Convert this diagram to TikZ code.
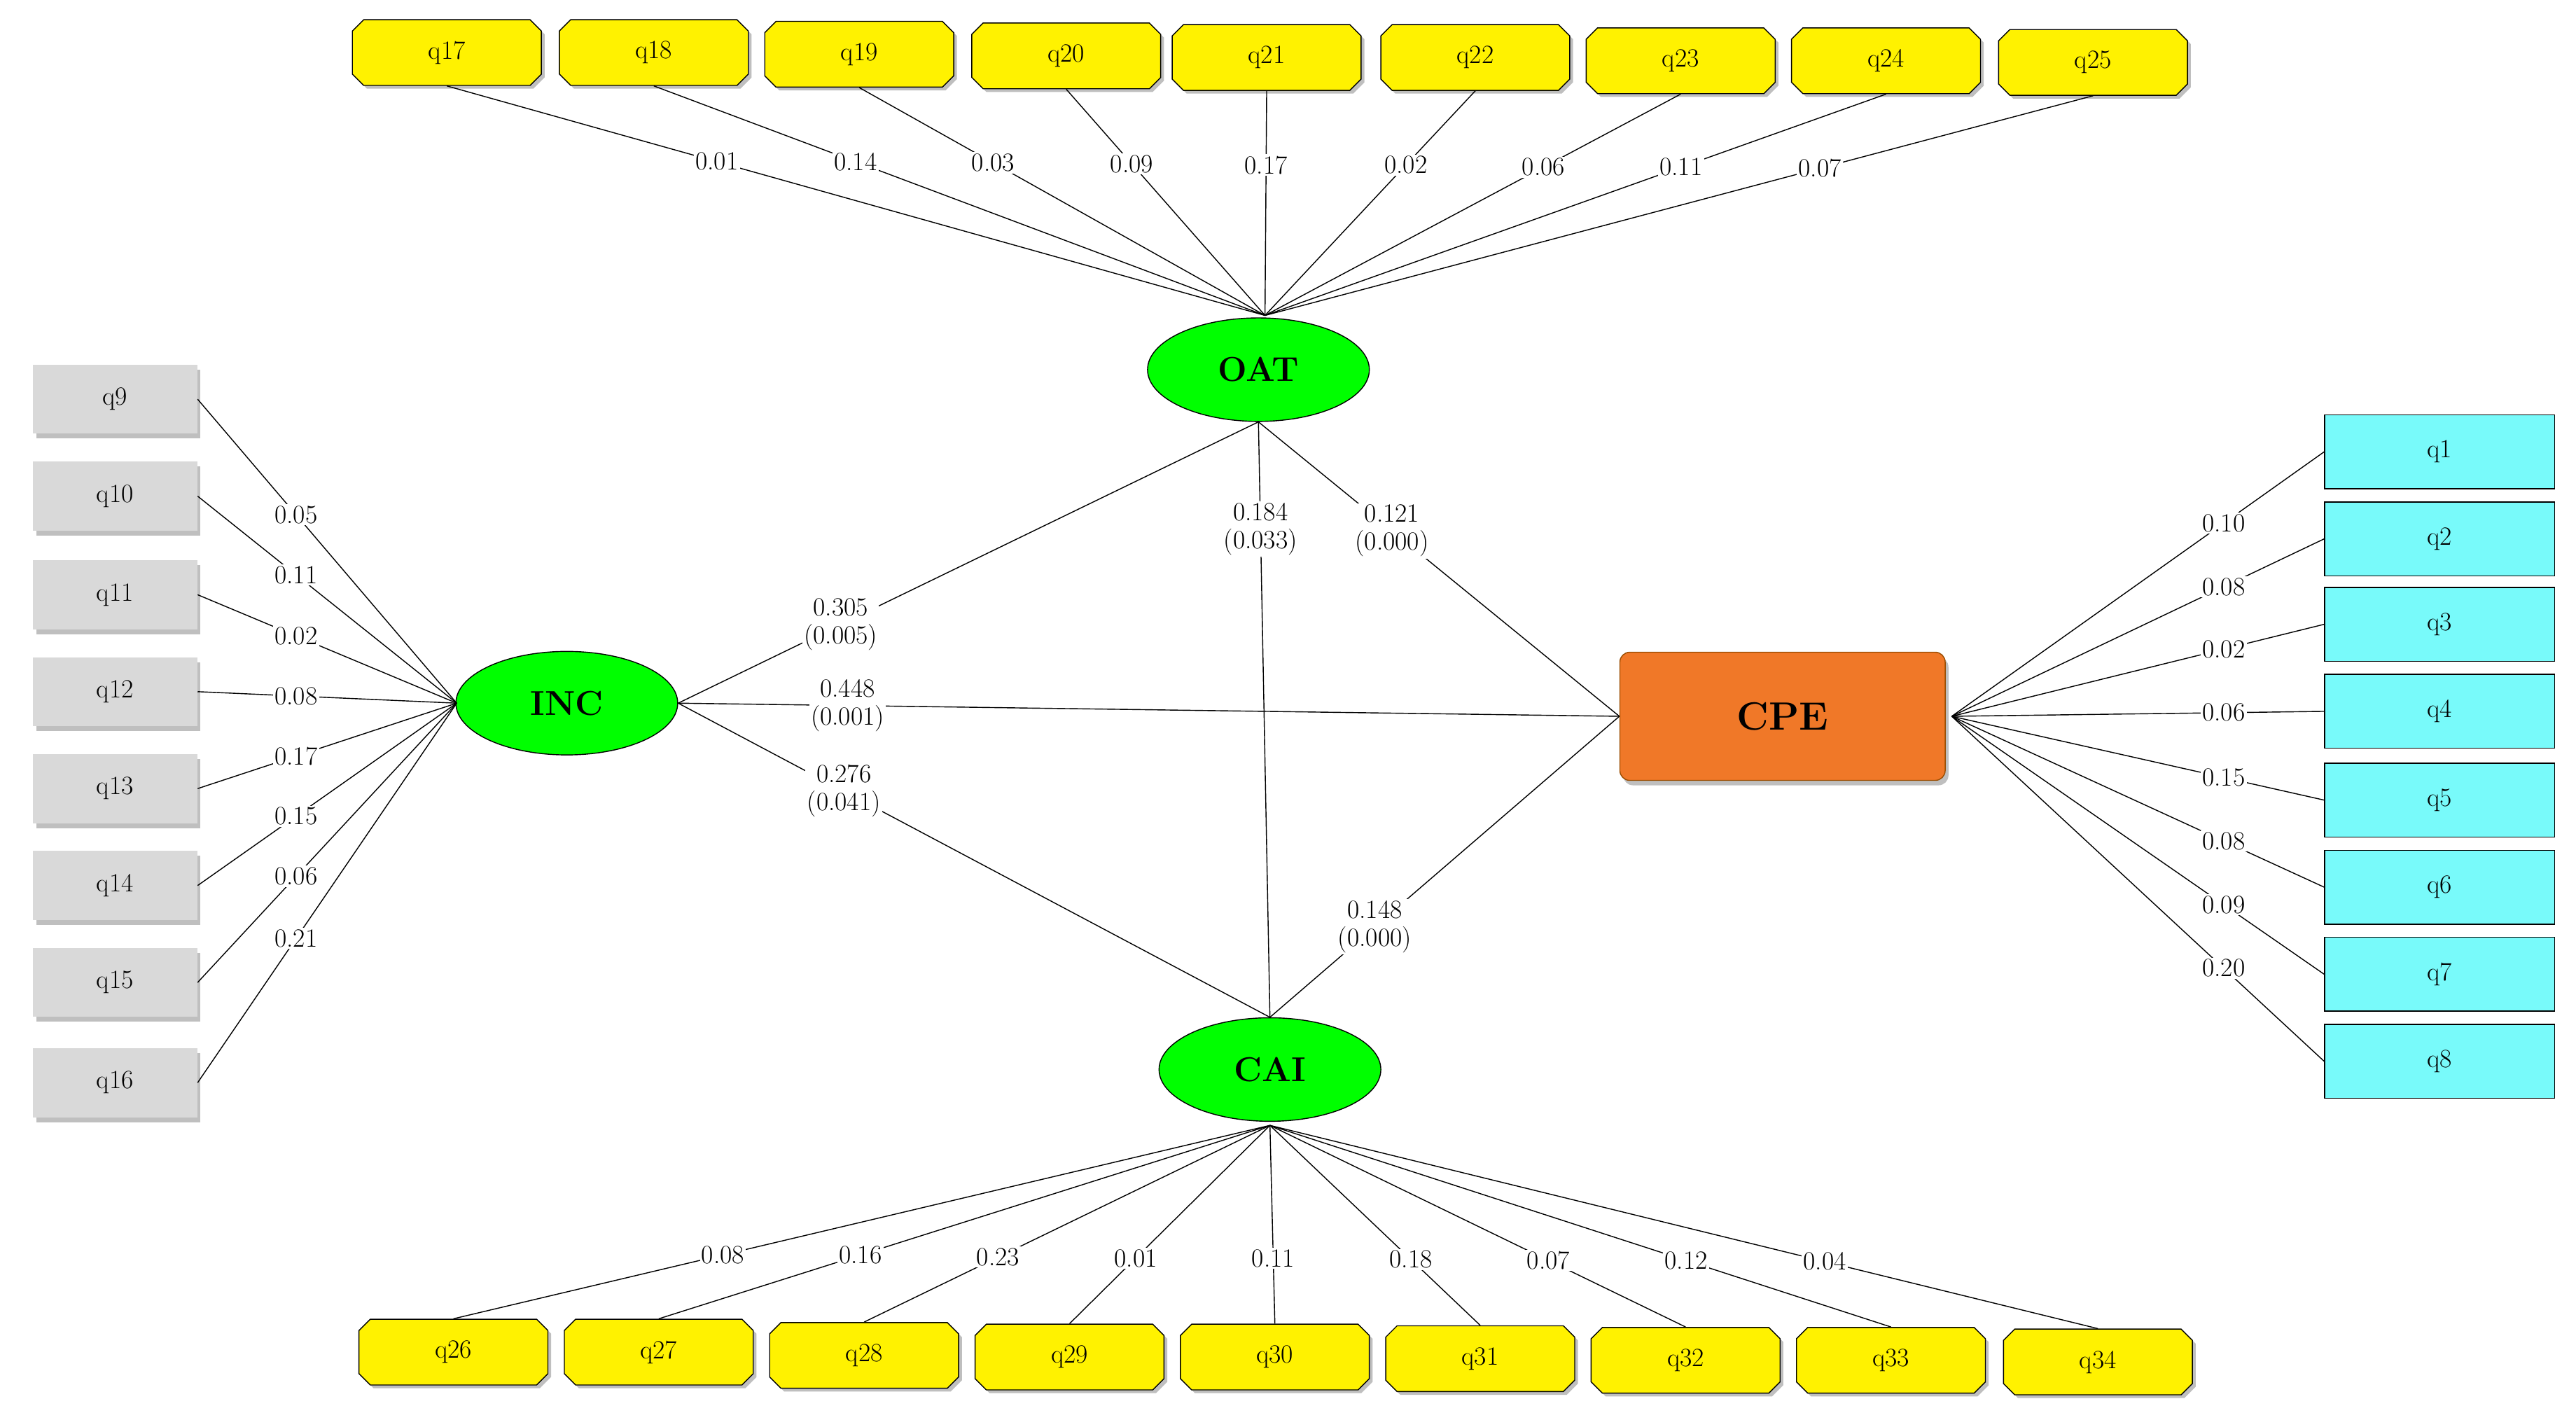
\documentclass[tikz,border=0pt]{standalone}
\usetikzlibrary{shapes.misc,shapes.geometric,shadows}
\definecolor{lcyan}{RGB}{120,250,250}
\definecolor{lorange}{RGB}{240,120,40}
\begin{document}
\begin{tikzpicture}[x=1pt,y=-1pt,semithick,
  ybox/.style={chamfered rectangle,chamfered rectangle xsep=4pt,draw,fill=yellow,
    minimum width=115pt,minimum height=40pt,font=\fontsize{16}{18}\selectfont,drop shadow={shadow xshift=2pt,shadow yshift=-2pt}},
  gbox/.style={rectangle,fill=gray!30,minimum width=100pt,minimum height=42pt,
    font=\fontsize{16}{18}\selectfont,drop shadow={shadow xshift=2pt,shadow yshift=-3pt}},
  cbox/.style={rectangle,draw,fill=lcyan,minimum width=140pt,minimum height=45pt,
    font=\fontsize{16}{18}\selectfont},
  lat/.style={ellipse,draw,fill=green,minimum width=135pt,minimum height=63pt,
    font=\bfseries\fontsize{21}{24}\selectfont},
  lbl/.style={fill=white,inner sep=1pt,font=\fontsize{16}{17}\selectfont,align=center}]
\useasboundingbox (0,0) rectangle (1568,860);
% latent variables
\node[lat] (oat) at (766,225) {OAT};
\node[lat] (inc) at (345,428) {INC};
\node[lat] (cai) at (773,651) {CAI};
\node[rectangle,rounded corners=6pt,fill=lorange,draw=orange!60!black,
  minimum width=198pt,minimum height=78pt,font=\bfseries\fontsize{24}{26}\selectfont,
  drop shadow={shadow xshift=2pt,shadow yshift=-3pt}] (cpe) at (1085,436) {CPE};
\coordinate (oatp) at (770,192);
\coordinate (incp) at (278,428);
\coordinate (caip) at (773,685);
\coordinate (cpep) at (1188,436);
% top indicators
\foreach \n/\x/\y/\w in {17/272/32/0.01,18/398/32/0.14,19/523/33/0.03,20/649/34/0.09,
  21/771/35/0.17,22/898/35/0.02,23/1023/37/0.06,24/1148/37/0.11,25/1274/38/0.07}{
  \node[ybox] (q\n) at (\x,\y) {q\n};
  \draw (q\n.south) -- node[lbl,pos=0.33] {\w} (oatp);
}
% bottom indicators
\foreach \n/\x/\y/\w in {26/276/823/0.08,27/401/823/0.16,28/526/825/0.23,29/651/826/0.01,
  30/776/826/0.11,31/901/827/0.18,32/1026/828/0.07,33/1151/828/0.12,34/1277/829/0.04}{
  \node[ybox] (q\n) at (\x,\y) {q\n};
  \draw (q\n.north) -- node[lbl,pos=0.33] {\w} (caip);
}
% left indicators
\foreach \n/\y/\w in {9/243/0.05,10/302/0.11,11/362/0.02,12/421/0.08,
  13/480/0.17,14/539/0.15,15/598/0.06,16/659/0.21}{
  \node[gbox] (q\n) at (70,\y) {q\n};
  \draw (q\n.east) -- node[lbl,pos=0.38] {\w} (incp);
}
% right indicators
\foreach \n/\y/\w in {1/275/0.10,2/328/0.08,3/380/0.02,4/433/0.06,
  5/487/0.15,6/540/0.08,7/593/0.09,8/646/0.20}{
  \node[cbox] (q\n) at (1485,\y) {q\n};
  \draw (q\n.west) -- node[lbl,pos=0.27] {\w} (cpep);
}
% structural paths
\draw (inc.east) -- node[lbl,pos=0.28] {0.305\\(0.005)} (oat.south);
\draw (inc.east) -- node[lbl,pos=0.18] {0.448\\(0.001)} (cpe.west);
\draw (inc.east) -- node[lbl,pos=0.28] {0.276\\(0.041)} (cai.north);
\draw (oat.south) -- node[lbl,pos=0.18] {0.184\\(0.033)} (cai.north);
\draw (oat.south) -- node[lbl,pos=0.37] {0.121\\(0.000)} (cpe.west);
\draw (cai.north) -- node[lbl,pos=0.3] {0.148\\(0.000)} (cpe.west);
\end{tikzpicture}
\end{document}
